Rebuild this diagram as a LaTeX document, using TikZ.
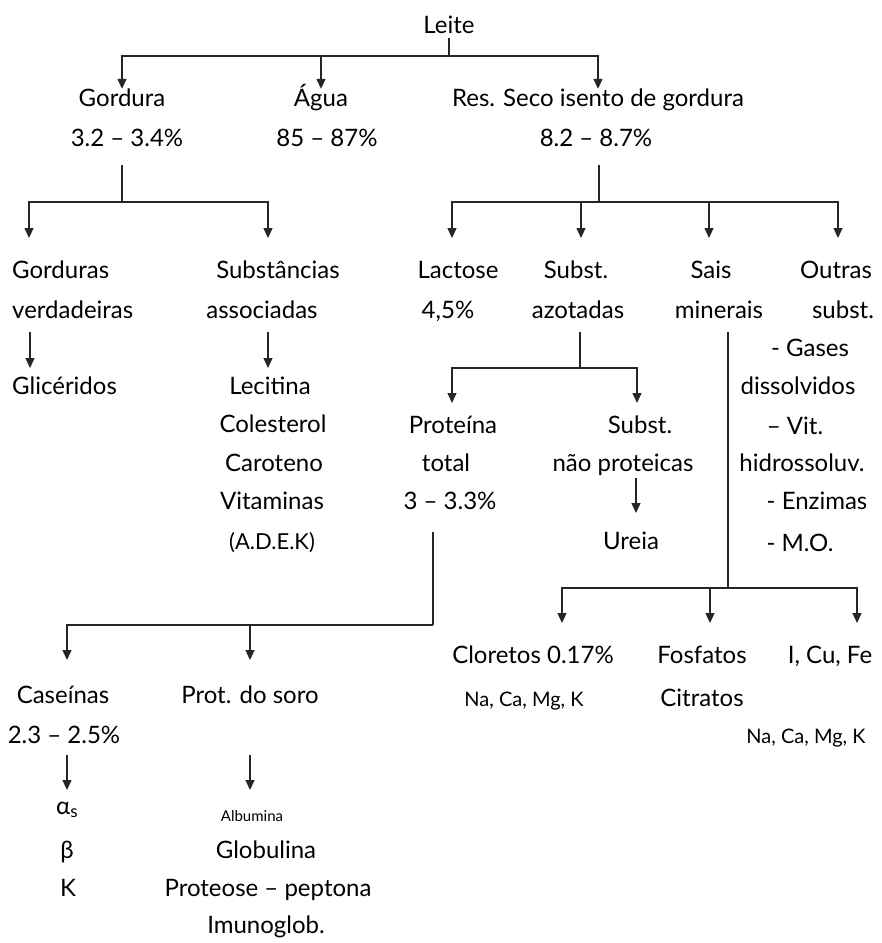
\documentclass[tikz,border=0pt]{standalone}
\usepackage{fontspec}
\setmainfont{Lato}
\usepackage{tikz}
\usetikzlibrary{arrows.meta, positioning}

\begin{document}
\begin{tikzpicture}
        [ x=1pt, y=-1pt
        , t/.style={inner sep=0pt, text height=17pt, text depth=5pt, font=\fontsize{24}{28}\selectfont}
        , tl/.style={t, anchor=west}
        , sm/.style={t, font=\fontsize{20}{24}\selectfont}
        , tiny/.style={t, font=\fontsize{15}{18}\selectfont}
        , ln/.style={line width=1.3pt, draw=black!85}
        , arr/.style={ln, -{Triangle[length=10pt,width=9pt]}}
        ]
        \useasboundingbox (0,0) rectangle (882,943);
        \newcommand{\subs}[1]{\raisebox{-3pt}{\fontsize{17}{20}\selectfont #1}}

        % top level
        \node (leite) [t] at (449,27) {Leite};
        \node (gord)  [t] at (122,100) {Gordura};
        \node (gordP) [t] at (127,140) {3.2 -- 3.4\%};
        \node (agua)  [t] at (321,100) {Água};
        \node (aguaP) [t] at (327,140) {85 -- 87\%};
        \node (res)   [t] at (598,100) {Res. Seco isento de gordura};
        \node (resP)  [t] at (596,140) {8.2 -- 8.7\%};

        \coordinate (leiteJ) at (449,56);
        \draw[ln] (leite) -- (leiteJ);
        \draw[arr] (leiteJ) -| (gord);
        \draw[arr] (leiteJ) -| (agua);
        \draw[arr] (leiteJ) -| (res);

        % gordura
        \node (gv1) [tl] at (12,272) {Gorduras};
        \node (gv2) [tl] at (12,312) {verdadeiras};
        \node (gl)  [tl] at (12,388) {Glicéridos};
        \node (sa1) [t] at (278,272) {Substâncias};
        \node (sa2) [t] at (262,312) {associadas};
        \node (sa3) [t] at (270,388) {Lecitina};
        \node (sa4) [t] at (273,426) {Colesterol};
        \node (sa5) [t] at (274,465) {Caroteno};
        \node (sa6) [t] at (272,503) {Vitaminas};
        \node (sa7) [sm, font=\fontsize{22}{26}\selectfont] at (272,543) {(A.D.E.K)};

        \coordinate (gordJ) at (122,202);
        \coordinate (gvT) at (29,238);
        \coordinate (saT) at (268,238);
        \draw[ln, shorten <=14pt] (gordP.south -| gordJ) -- (gordJ);
        \draw[arr] (gordJ) -| (gvT);
        \draw[arr] (gordJ) -| (saT);

        \coordinate (glT) at (30,368);
        \draw[arr, shorten <=9pt] (gv2.south west -| glT) -- (glT);
        \coordinate (sa3T) at (268,368);
        \draw[arr, shorten <=9pt] (sa2.south -| sa3T) -- (sa3T);

        % residuo seco
        \node (lac1) [t] at (458,272) {Lactose};
        \node (lac2) [t] at (448,312) {4,5\%};
        \node (az1)  [t] at (576,272) {Subst.};
        \node (az2)  [t] at (578,312) {azotadas};
        \node (sm1)  [t] at (711,272) {Sais};
        \node (sm2)  [t] at (719,312) {minerais};
        \node (ou1)  [t] at (836,272) {Outras};
        \node (ou2)  [t] at (843,312) {subst.};
            \node (ou3) [t] at (810,350) {- Gases};
            \node (ou4) [t] at (798,388) {dissolvidos};
            \node (ou5) [t] at (795,428) {-- Vit.};
            \node (ou6) [t] at (802,465) {hidrossoluv.};
            \node (ou7) [t] at (817,503) {- Enzimas};
            \node (ou8) [t] at (800,545) {- M.O.};

        \coordinate (resJ) at (599,202);
        \coordinate (lacT) at (452,238);
        \coordinate (azT) at (581,238);
        \coordinate (smT) at (709,238);
        \coordinate (ouT) at (838,238);
        \draw[ln, shorten <=14pt] (resP.south -| resJ) -- (resJ);
        \draw[arr] (resJ) -| (lacT);
        \draw[arr] (resJ) -| (azT);
        \draw[arr] (resJ) -| (smT);
        \draw[arr] (resJ) -| (ouT);

        % azotadas
        \node (pt1) [t] at (453,427) {Proteína};
        \node (pt2) [t] at (446,465) {total};
        \node (pt3) [t] at (450,503) {3 -- 3.3\%};
        \node (np1) [t] at (640,427) {Subst.};
        \node (np2) [t] at (623,465) {não proteicas};
        \node (ur)  [t] at (631,543) {Ureia};

        \coordinate (azJ) at (580,368);
        \coordinate (ptT) at (452,403);
        \coordinate (npT) at (637,403);
        \draw[ln, shorten <=9pt] (az2.south -| azJ) -- (azJ);
        \draw[arr] (azJ) -| (ptT);
        \draw[arr] (azJ) -| (npT);
        \coordinate (urT) at (636,513);
        \draw[arr, shorten <=2pt] (np2.south -| urT) -- (urT);

        % sais minerais
        \node (cl1) [t]  at (533,657) {Cloretos 0.17\%};
        \node (cl2) [sm] at (524,700) {Na, Ca, Mg, K};
        \node (fo1) [t]  at (702,657) {Fosfatos};
        \node (fo2) [t]  at (702,700) {Citratos};
        \node (fe1) [t]  at (830,657) {I, Cu, Fe};
        \node (fe2) [sm] at (806,737) {Na, Ca, Mg, K};

        \coordinate (smJ) at (728,588);
        \coordinate (clT) at (562,623);
        \coordinate (foT) at (710,623);
        \coordinate (feT) at (857,623);
        \draw[ln, shorten <=9pt] (sm2.south -| smJ) -- (smJ);
        \draw[arr] (smJ) -| (clT);
        \draw[arr] (smJ) -| (foT);
        \draw[arr] (smJ) -| (feT);

        % proteina total
        \node (cs1) [t] at (63,697) {Caseínas};
        \node (cs2) [t] at (64,737) {2.3 -- 2.5\%};
        \node (cs3) [t] at (67,808) {α\subs{s}};
        \node (cs4) [t] at (67,852) {β};
        \node (cs5) [t] at (68,890) {K};
        \node (ps1) [t] at (250,697) {Prot. do soro};
        \node (ps2) [tiny] at (252,815) {Albumina};
        \node (ps3) [t] at (266,852) {Globulina};
        \node (ps4) [t] at (268,890) {Proteose -- peptona};
        \node (ps5) [t] at (266,927) {Imunoglob.};

        \coordinate (ptJ) at (433,625);
        \coordinate (csT) at (67,660);
        \coordinate (psT) at (250,660);
        \draw[ln, shorten <=18pt] (pt3.south -| ptJ) -- (ptJ);
        \draw[arr] (ptJ) -| (csT);
        \draw[arr] (ptJ) -| (psT);
        \coordinate (cs3T) at (67,790);
        \draw[arr, shorten <=7pt] (cs2.south -| cs3T) -- (cs3T);
        \coordinate (ps2T) at (250,790);
        \draw[arr, shorten <=47pt] (ps1.south -| ps2T) -- (ps2T);

    \end{tikzpicture}
\end{document}
